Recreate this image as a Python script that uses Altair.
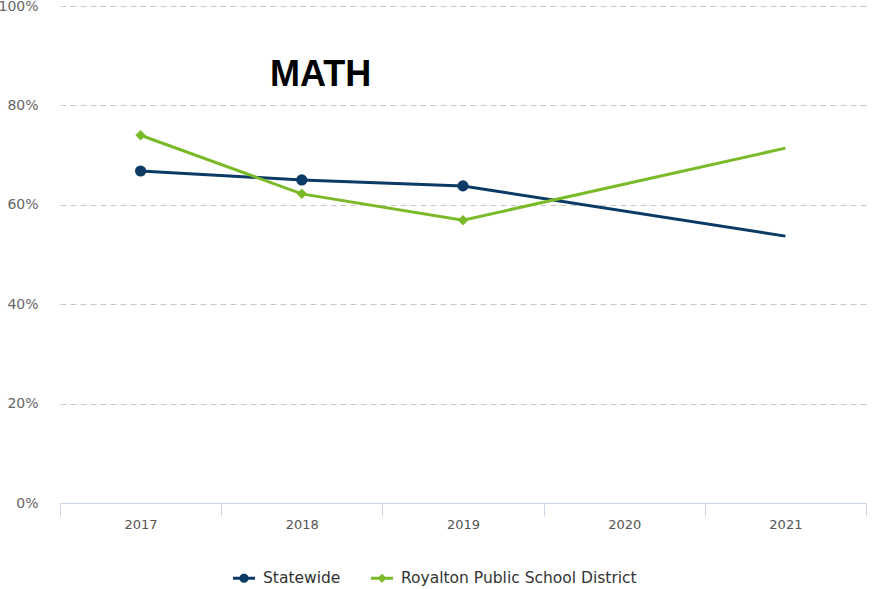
import altair as alt
import pandas as pd

years = [2017, 2018, 2019, 2020, 2021]
statewide = [66.8, 65.0, 63.8, None, 53.7]
royalton = [74.0, 62.2, 56.9, None, 71.4]
marker_years = [2017, 2018, 2019]
series = ["Statewide", "Royalton Public School District"]
colors = ["#0b3a64", "#7aba28"]
y_ticks = [0, 20, 40, 60, 80, 100]

rows = []
for s, vals in zip(series, [statewide, royalton]):
    for yr, v in zip(years, vals):
        if v is not None:
            rows.append({"year": str(yr), "series": s, "value": v,
                         "marker": yr in marker_years})
df = pd.DataFrame(rows)

FONT = "DejaVu Sans"

x = alt.X(
    "year:O",
    scale=alt.Scale(type="band", domain=[str(y) for y in years],
                    paddingInner=0, paddingOuter=0),
    axis=alt.Axis(title=None, labelAngle=0, tickBand="extent",
                  domainColor="#ccd6eb", tickColor="#ccd6eb", tickSize=13,
                  labelPadding=2, labelFontSize=13, labelColor="#555555",
                  labelFont=FONT, grid=False),
)
y = alt.Y(
    "value:Q",
    scale=alt.Scale(domain=[0, 100], nice=False),
    axis=alt.Axis(title=None, values=y_ticks, labelExpr="datum.value + '%'",
                  grid=True, gridDash=[6, 4], gridColor="#c8c8c8",
                  domain=False, ticks=False, tickSize=0, labelPadding=22,
                  labelFontSize=14, labelColor="#666666", labelFont=FONT),
)
color_scale = alt.Scale(domain=series, range=colors)

circle_path = "M-1,-0.13H1V0.13H-1Z M-0.42,0A0.42,0.42 0 1,1 0.42,0A0.42,0.42 0 1,1 -0.42,0Z"
diamond_path = "M-1,-0.13H1V0.13H-1Z M0,-0.42L0.42,0L0,0.42L-0.42,0Z"

legend = alt.Legend(
    title=None, orient="none", legendX=173, legendY=561, direction="horizontal",
    labelFontSize=15.5, labelColor="#333333", labelFont=FONT, labelLimit=0,
    columnPadding=30, labelOffset=8, symbolSize=484, symbolStrokeWidth=0,
    symbolOpacity=1, padding=0,
)

base = alt.Chart(df)

legend_layer = base.transform_filter("false").mark_point(
    filled=True, size=484, opacity=1, strokeWidth=0
).encode(
    x=x, y=y,
    color=alt.Color("series:N", scale=color_scale, legend=legend),
    shape=alt.Shape("series:N",
                    scale=alt.Scale(domain=series, range=[circle_path, diamond_path]),
                    legend=legend),
)

lines = base.mark_line(strokeWidth=3).encode(
    x=x, y=y,
    color=alt.Color("series:N", scale=color_scale),
    detail="series:N",
)

pts_state = base.transform_filter(alt.datum.marker).transform_filter(
    alt.datum.series == series[0]
).mark_point(shape="circle", filled=True, size=125, opacity=1).encode(
    x=x, y=y, color=alt.Color("series:N", scale=color_scale)
)

pts_roy = base.transform_filter(alt.datum.marker).transform_filter(
    alt.datum.series == series[1]
).mark_point(shape="diamond", filled=True, size=110, opacity=1).encode(
    x=x, y=y, color=alt.Color("series:N", scale=color_scale)
)

chart = alt.layer(legend_layer, lines, pts_state, pts_roy).properties(
    width=806, height=497,
    title=alt.TitleParams("MATH", anchor="start", frame="group", fontSize=36,
                          font="Liberation Sans", fontWeight="bold", color="#000000",
                          dx=210, dy=123, offset=0, baseline="alphabetic"),
    autosize=alt.AutoSizeParams(type="none"),
    padding={"left": 60, "top": 6, "right": 6, "bottom": 86},
    background="white",
).configure_view(stroke=None)

chart.save("out.html", embed_options={"renderer": "svg", "actions": False})
